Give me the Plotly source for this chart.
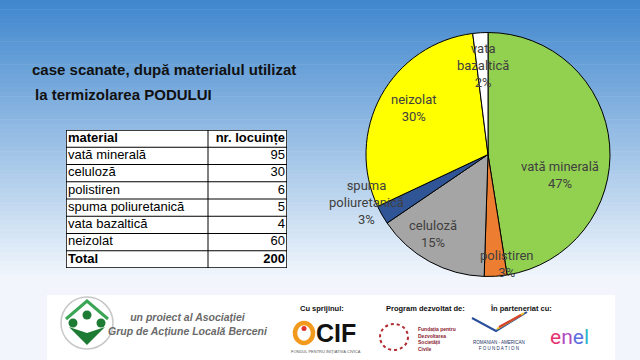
import math
import plotly.graph_objects as go

# ---------------- data ----------------
table_materials = ["vată minerală", "celuloză", "polistiren", "spuma poliuretanică", "vata bazaltică", "neizolat"]
table_counts = [95, 30, 6, 5, 4, 60]
table_total = 200
table_header = ["material", "nr. locuințe"]

pie_labels = ["vată minerală", "polistiren", "celuloză", "spuma<br>poliuretanică", "neizolat", "vata<br>bazaltică"]
pie_values = [95, 6, 30, 5, 60, 4]
pie_pct_text = ["47%", "3%", "15%", "3%", "30%", "2%"]

# ---------------- style ----------------
pie_colors = ["#92d050", "#ed7d31", "#a5a5a5", "#2f5597", "#ffff00", "#ffffff"]
label_radius = [0.61, 0.91, 0.79, 1.07, 0.72, 0.73]   # label distance from centre, share of radius
label_turn = [20.4, -6.2, 5.9, 8.3, 3.0, 0.4]          # degrees off the slice's mid-angle

W, H = 640, 360
SANS = "Liberation Sans, Arial, sans-serif"


def px(x):
    return x / W


def py(y):
    return 1 - y / H


fig = go.Figure()

# ---------------- background gradient ----------------
shapes = []
top = (64, 135, 206)
bot = (238, 244, 251)
n = 60
grad_end = 275
for i in range(n):
    t = i / (n - 1)
    c = tuple(int(round(top[k] + (bot[k] - top[k]) * t)) for k in range(3))
    y0 = grad_end * i / n
    y1 = grad_end * (i + 1) / n + 0.6
    shapes.append(dict(type="rect", xref="paper", yref="paper", x0=0, x1=1,
                       y0=py(y1), y1=py(y0), line=dict(width=0),
                       fillcolor="rgb(%d,%d,%d)" % c, layer="below"))
shapes.append(dict(type="rect", xref="paper", yref="paper", x0=0, x1=1,
                   y0=0, y1=py(grad_end), line=dict(width=0),
                   fillcolor="rgb(242,246,252)", layer="below"))
# footer white panel
shapes.append(dict(type="rect", xref="paper", yref="paper", x0=px(47), x1=px(615),
                   y0=0, y1=py(295), line=dict(width=0), fillcolor="white", layer="below"))

# footer logo (left): circle with green figures
shapes.append(dict(type="circle", xref="paper", yref="paper", x0=px(61), x1=px(113),
                   y0=py(349), y1=py(297), line=dict(color="#c8c8c8", width=1.5), fillcolor="white"))
shapes.append(dict(type="path", xref="paper", yref="paper",
                   path="M %f %f L %f %f L %f %f" % (px(66), py(319), px(87), py(301), px(108), py(319)),
                   line=dict(color="#3aa655", width=3)))
for cx_, cy_, r in [(73, 323, 4.5), (87, 315, 4.5), (101, 323, 4.5)]:
    shapes.append(dict(type="circle", xref="paper", yref="paper", x0=px(cx_ - r), x1=px(cx_ + r),
                       y0=py(cy_ + r), y1=py(cy_ - r), line=dict(width=0), fillcolor="#1e7b34"))
shapes.append(dict(type="path", xref="paper", yref="paper",
                   path="M %f %f L %f %f L %f %f L %f %f Z" % (px(69), py(327), px(87), py(345), px(105), py(327), px(87), py(333)),
                   line=dict(width=0), fillcolor="#1e7b34"))
# CIF ring
shapes.append(dict(type="circle", xref="paper", yref="paper", x0=px(295), x1=px(313),
                   y0=py(343), y1=py(323), line=dict(color="#f29a1d", width=4.5)))
shapes.append(dict(type="circle", xref="paper", yref="paper", x0=px(301.5), x1=px(306.5),
                   y0=py(331), y1=py(326), line=dict(width=0), fillcolor="#e2312d"))
# FDSC dotted ring
shapes.append(dict(type="circle", xref="paper", yref="paper", x0=px(380), x1=px(408),
                   y0=py(350), y1=py(324), line=dict(color="#b02a30", width=2, dash="dot")))
# RAF swoosh
shapes.append(dict(type="path", xref="paper", yref="paper",
                   path="M %f %f L %f %f L %f %f" % (px(472), py(318), px(496), py(331), px(527), py(312)),
                   line=dict(color="#2b4f9a", width=2)))
shapes.append(dict(type="path", xref="paper", yref="paper",
                   path="M %f %f L %f %f" % (px(497), py(329), px(524), py(313)),
                   line=dict(color="#f4c21d", width=2)))
shapes.append(dict(type="path", xref="paper", yref="paper",
                   path="M %f %f L %f %f" % (px(499), py(327), px(521), py(315)),
                   line=dict(color="#d6402f", width=2)))

# ---------------- pie ----------------
pie_x0, pie_x1, pie_top, pie_bot = 366, 610, 32, 277
fig.add_trace(go.Pie(
    values=pie_values, labels=pie_labels, textinfo="none",
    sort=False, direction="clockwise", rotation=0,
    marker=dict(colors=pie_colors, line=dict(color="black", width=1)),
    showlegend=False, hoverinfo="label+value+percent",
    domain=dict(x=[px(pie_x0), px(pie_x1)], y=[py(pie_bot), py(pie_top)]),
))

# pie labels placed around each slice's mid-angle (derived from the values)
ann = []
cx = (pie_x0 + pie_x1) / 2
cy = (pie_top + pie_bot) / 2
R = min(pie_x1 - pie_x0, pie_bot - pie_top) / 2
tot = sum(pie_values)
cum = 0
for lab, v, pct, f, turn in zip(pie_labels, pie_values, pie_pct_text, label_radius, label_turn):
    ang = 2 * math.pi * (cum + v / 2) / tot + math.radians(turn)
    cum += v
    lx = cx + f * R * math.sin(ang)
    ly = cy - f * R * math.cos(ang)
    ann.append(dict(text=lab + "<br>" + pct, x=px(lx), y=py(ly),
                    xanchor="center", yanchor="middle", showarrow=False, align="center",
                    font=dict(family="Roboto, sans-serif", size=13, color="#404040")))

# ---------------- table (text on hidden axes) ----------------
col1 = ["<b>%s</b>" % table_header[0]] + table_materials + ["<b>Total</b>"]
col2 = ["<b>%s</b>" % table_header[1]] + [str(v) for v in table_counts] + ["<b>%d</b>" % table_total]
nrows = len(col1)
cw1, cw2 = 142, 79
rows = [i + 0.5 for i in range(nrows)]
fig.add_trace(go.Scatter(x=[2] * nrows, y=rows, text=col1, mode="text", textposition="middle right",
                         textfont=dict(family=SANS, size=13, color="black"), hoverinfo="skip",
                         showlegend=False, cliponaxis=False))
fig.add_trace(go.Scatter(x=[cw1 + cw2 - 2] * nrows, y=rows, text=col2, mode="text", textposition="middle left",
                         textfont=dict(family=SANS, size=13, color="black"), hoverinfo="skip",
                         showlegend=False, cliponaxis=False))
shapes.append(dict(type="rect", xref="x", yref="y", x0=0, x1=cw1 + cw2, y0=0, y1=nrows,
                   fillcolor="white", line=dict(color="black", width=1.5), layer="below"))
for i in range(1, nrows):
    shapes.append(dict(type="line", xref="x", yref="y", x0=0, x1=cw1 + cw2, y0=i, y1=i,
                       line=dict(color="black", width=1)))
shapes.append(dict(type="line", xref="x", yref="y", x0=cw1, x1=cw1, y0=0, y1=nrows,
                   line=dict(color="black", width=1)))

# ---------------- titles ----------------
ann.append(dict(text="<b>case scanate, după materialul utilizat</b>", x=px(30), y=py(70),
                xanchor="left", yanchor="middle", showarrow=False,
                font=dict(family=SANS, size=15, color="#111111")))
ann.append(dict(text="<b>la termizolarea PODULUI</b>", x=px(33), y=py(95),
                xanchor="left", yanchor="middle", showarrow=False,
                font=dict(family=SANS, size=15, color="#111111")))

# ---------------- footer texts ----------------
ann.append(dict(text="<b><i>un proiect al Asociației<br>Grup de Acțiune Locală Berceni</i></b>",
                x=px(188), y=py(324), xanchor="center", yanchor="middle", showarrow=False,
                font=dict(family=SANS, size=10.5, color="#6a6a6a")))
ann.append(dict(text="<b>Cu sprijinul:</b>", x=px(298), y=py(308), xanchor="left", yanchor="middle",
                showarrow=False, font=dict(family=SANS, size=7.5, color="#111111")))
ann.append(dict(text="<b>CIF</b>", x=px(314), y=py(333), xanchor="left", yanchor="middle",
                showarrow=False, font=dict(family=SANS, size=25, color="#111111")))
ann.append(dict(text="FONDUL PENTRU INIȚIATIVĂ CIVICĂ", x=px(326), y=py(351), xanchor="center", yanchor="middle",
                showarrow=False, font=dict(family=SANS, size=4, color="#555555")))
ann.append(dict(text="<b>Program dezvoltat de:</b>", x=px(384), y=py(308), xanchor="left", yanchor="middle",
                showarrow=False, font=dict(family=SANS, size=7.5, color="#111111")))
ann.append(dict(text="<b>Fundația pentru<br>Dezvoltarea<br>Societății<br>Civile</b>", x=px(416), y=py(339),
                xanchor="left", yanchor="middle", align="left", showarrow=False,
                font=dict(family=SANS, size=5, color="#8b2230")))
ann.append(dict(text="<b>În parteneriat cu:</b>", x=px(488), y=py(308), xanchor="left", yanchor="middle",
                showarrow=False, font=dict(family=SANS, size=7.5, color="#111111")))
ann.append(dict(text="ROMANIAN - AMERICAN<br>F O U N D A T I O N", x=px(499), y=py(345),
                xanchor="center", yanchor="middle", showarrow=False,
                font=dict(family=SANS, size=4.5, color="#23305f")))
ann.append(dict(text="<span style='color:#e6336f'>e</span><span style='color:#b04bc0'>n</span>"
                     "<span style='color:#5a6fe0'>e</span><span style='color:#2bb5c8'>l</span>",
                x=px(569), y=py(337), xanchor="center", yanchor="middle", showarrow=False,
                font=dict(family="Roboto, sans-serif", size=21)))

for a in ann:
    a["xref"] = "paper"
    a["yref"] = "paper"

fig.update_layout(
    width=W, height=H, margin=dict(l=0, r=0, t=0, b=0),
    paper_bgcolor="white", plot_bgcolor="rgba(0,0,0,0)",
    xaxis=dict(domain=[px(66), px(287)], range=[0, cw1 + cw2], visible=False, fixedrange=True),
    yaxis=dict(domain=[py(268), py(130)], range=[nrows, 0], visible=False, fixedrange=True),
    shapes=shapes, annotations=ann,
)

fig.write_html("out.html", config={"displayModeBar": False},
               post_script="document.body.style.margin='0px';")
